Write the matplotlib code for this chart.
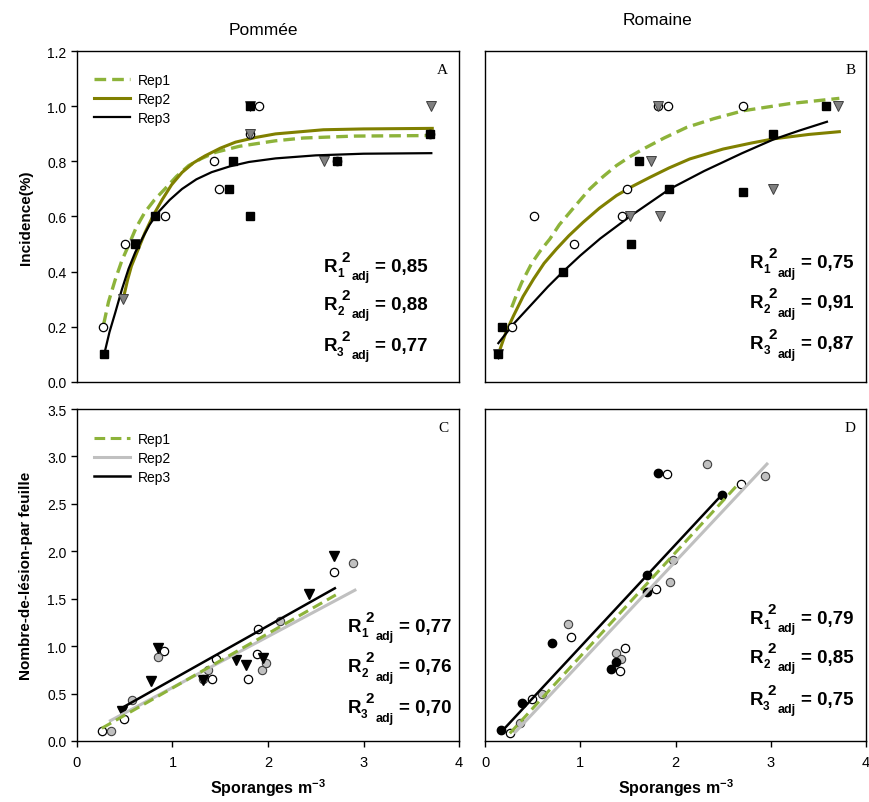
import matplotlib
matplotlib.use("Agg")
import matplotlib.pyplot as plt
from matplotlib.transforms import offset_copy

plt.rcParams['font.family'] = ['Liberation Sans', 'DejaVu Sans']
plt.rcParams['mathtext.fontset'] = 'custom'
plt.rcParams['mathtext.rm'] = 'Liberation Sans'
plt.rcParams['mathtext.bf'] = 'Liberation Sans:bold'

# ---------- Panel A : Pommée, incidence ----------
a_rep1_x = [0.27, 0.50, 0.92, 1.43, 1.49, 1.81, 1.91, 2.72, 3.70]
a_rep1_y = [0.2, 0.5, 0.6, 0.8, 0.7, 0.9, 1.0, 0.8, 0.9]
a_rep2_x = [0.48, 0.61, 1.81, 1.81, 2.59, 3.71]
a_rep2_y = [0.3, 0.5, 0.9, 1.0, 0.8, 1.0]
a_rep3_x = [0.28, 0.61, 0.82, 1.59, 1.63, 1.81, 1.81, 2.72, 3.70]
a_rep3_y = [0.1, 0.5, 0.6, 0.7, 0.8, 0.6, 1.0, 0.8, 0.9]

# fitted curves, points
a_fit1_x = [0.28, 0.33, 0.40, 0.47, 0.54, 0.62, 0.71, 0.81, 0.92, 1.04, 1.17, 1.30,
            1.45, 1.70, 2.08, 2.37, 2.90, 3.71]
a_fit1_y = [0.21, 0.29, 0.37, 0.44, 0.495, 0.56, 0.615, 0.66, 0.70, 0.745, 0.785, 0.81,
            0.833, 0.855, 0.875, 0.885, 0.892, 0.894]
a_fit2_x = [0.49, 0.53, 0.57, 0.64, 0.71, 0.80, 0.89, 0.99, 1.10, 1.22, 1.34, 1.50,
            1.66, 1.87, 2.08, 2.58, 3.00, 3.72]
a_fit2_y = [0.31, 0.37, 0.42, 0.48, 0.54, 0.605, 0.66, 0.715, 0.76, 0.795, 0.82, 0.848,
            0.87, 0.887, 0.90, 0.915, 0.918, 0.92]
a_fit3_x = [0.29, 0.34, 0.40, 0.47, 0.54, 0.61, 0.68, 0.76, 0.85, 0.97, 1.10, 1.25,
            1.41, 1.60, 1.80, 2.08, 2.50, 3.00, 3.71]
a_fit3_y = [0.107, 0.18, 0.25, 0.335, 0.41, 0.47, 0.518, 0.57, 0.615, 0.66, 0.70, 0.735,
            0.761, 0.782, 0.798, 0.811, 0.822, 0.828, 0.83]

# ---------- Panel B : Romaine, incidence ----------
b_rep1_x = [0.28, 0.51, 0.93, 1.44, 1.49, 1.82, 1.92, 2.71]
b_rep1_y = [0.2, 0.6, 0.5, 0.6, 0.7, 1.0, 1.0, 1.0]
b_rep2_x = [0.14, 1.52, 1.74, 1.82, 1.84, 3.02, 3.71]
b_rep2_y = [0.1, 0.6, 0.8, 1.0, 0.6, 0.7, 1.0]
b_rep3_x = [0.14, 0.175, 0.815, 1.53, 1.62, 1.93, 2.71, 3.02, 3.585]
b_rep3_y = [0.1, 0.2, 0.4, 0.5, 0.8, 0.7, 0.69, 0.9, 1.0]

b_fit1_x = [0.28, 0.33, 0.385, 0.49, 0.58, 0.68, 0.78, 0.89, 1.00, 1.10, 1.24, 1.38,
            1.52, 1.66, 1.88, 2.12, 2.40, 2.71, 3.20, 3.72]
b_fit1_y = [0.27, 0.315, 0.36, 0.43, 0.475, 0.518, 0.57, 0.615, 0.66, 0.70, 0.745, 0.785,
            0.817, 0.845, 0.885, 0.924, 0.955, 0.984, 1.01, 1.029]
b_fit2_x = [0.16, 0.22, 0.30, 0.40, 0.51, 0.62, 0.75, 0.88, 1.03, 1.20, 1.38, 1.55,
            1.73, 1.93, 2.15, 2.50, 2.80, 3.03, 3.40, 3.72]
b_fit2_y = [0.12, 0.18, 0.24, 0.31, 0.373, 0.43, 0.482, 0.53, 0.579, 0.63, 0.676, 0.71,
            0.742, 0.776, 0.809, 0.845, 0.867, 0.882, 0.898, 0.908]
b_fit3_x = [0.14, 0.30, 0.50, 0.66, 0.82, 1.00, 1.21, 1.52, 1.94, 2.30, 2.70, 3.03,
            3.30, 3.59]
b_fit3_y = [0.14, 0.21, 0.285, 0.345, 0.40, 0.458, 0.52, 0.60, 0.70, 0.765, 0.83, 0.88,
            0.912, 0.944]

# ---------- Panel C : Pommée, lesions per leaf ----------
c_rep1_x = [0.26, 0.49, 0.91, 1.41, 1.455, 1.79, 1.90, 1.89, 2.69]
c_rep1_y = [0.11, 0.23, 0.95, 0.65, 0.86, 0.65, 1.18, 0.92, 1.78]
c_rep2_x = [0.36, 0.58, 0.85, 1.315, 1.37, 1.94, 1.98, 2.13, 2.89]
c_rep2_y = [0.11, 0.43, 0.89, 0.65, 0.75, 0.75, 0.82, 1.27, 1.88]
c_rep3_x = [0.47, 0.78, 0.85, 1.315, 1.67, 1.77, 1.95, 2.43, 2.69]
c_rep3_y = [0.32, 0.63, 0.98, 0.64, 0.85, 0.80, 0.88, 1.55, 1.95]

c_fit1_x = [0.26, 2.71]
c_fit1_y = [0.134, 1.54]
c_fit2_x = [0.35, 2.91]
c_fit2_y = [0.214, 1.59]
c_fit3_x = [0.45, 2.70]
c_fit3_y = [0.337, 1.61]

# ---------- Panel D : Romaine, lesions per leaf ----------
d_rep1_x = [0.26, 0.49, 0.90, 1.42, 1.47, 1.79, 1.91, 2.69]
d_rep1_y = [0.08, 0.44, 1.10, 0.74, 0.98, 1.60, 2.81, 2.71]
d_rep2_x = [0.37, 0.60, 0.87, 1.37, 1.43, 1.94, 1.97, 2.33, 2.94]
d_rep2_y = [0.19, 0.49, 1.23, 0.93, 0.86, 1.68, 1.91, 2.92, 2.79]
d_rep3_x = [0.165, 0.39, 0.70, 1.32, 1.37, 1.70, 1.70, 1.82, 2.49]
d_rep3_y = [0.12, 0.40, 1.03, 0.76, 0.83, 1.75, 1.57, 2.83, 2.59]

d_fit1_x = [0.26, 2.66]
d_fit1_y = [0.08, 2.71]
d_fit2_x = [0.315, 2.96]
d_fit2_y = [0.09, 2.92]
d_fit3_x = [0.175, 2.50]
d_fit3_y = [0.10, 2.61]

r2_a = ['0,85', '0,88', '0,77']
r2_b = ['0,75', '0,91', '0,87']
r2_c = ['0,77', '0,76', '0,70']
r2_d = ['0,79', '0,85', '0,75']

GREEN = '#8db33a'
OLIVE = '#808000'
LGRAY = '#c0c0c0'

fig = plt.figure(figsize=(8.7, 8.03), dpi=100)
axA = fig.add_axes([0.0885, 0.5234, 0.4391, 0.4115])
axB = fig.add_axes([0.5575, 0.5234, 0.4379, 0.4115])
axC = fig.add_axes([0.0885, 0.0760, 0.4391, 0.4134])
axD = fig.add_axes([0.5575, 0.0760, 0.4379, 0.4134])


def r2_label(ax, x, y, i, val):
    base = dict(transform=ax.transAxes, fontweight='bold', va='baseline', ha='left')
    ax.text(x, y, 'R', fontsize=13.5, **base)
    for txt, dx, dy, fs in [(str(i), 9.9, -3.6, 8.5), ('2', 13.2, 7.2, 11),
                            ('adj', 20.2, -6.0, 9), ('= ' + val, 37.2, 0, 13.5)]:
        tr = offset_copy(ax.transAxes, fig=fig, x=dx, y=dy, units='points')
        ax.text(x, y, txt, fontsize=fs, transform=tr, fontweight='bold',
                va='baseline', ha='left')


def style(ax, ymax, yticks, show_y, show_x, letter):
    ax.set_xlim(0, 4)
    ax.set_ylim(0, ymax)
    for s in ax.spines.values():
        s.set_linewidth(1.0)
    ax.tick_params(direction='out', length=4, width=1, labelsize=10)
    if show_y:
        ax.set_yticks(yticks)
        ax.set_yticklabels([f'{t:.1f}' for t in yticks])
    else:
        ax.set_yticks([])
    if show_x:
        ax.set_xticks([0, 1, 2, 3, 4])
        ax.set_xticklabels(['0', '1', '2', '3', '4'], fontsize=10.5)
        ax.tick_params(axis='x', pad=6)
    else:
        ax.set_xticks([])
    ax.text(0.972, 0.965, letter, transform=ax.transAxes, ha='right', va='top',
            fontsize=11, family='Liberation Serif')


yt_inc = [0.0, 0.2, 0.4, 0.6, 0.8, 1.0, 1.2]
yt_les = [0.0, 0.5, 1.0, 1.5, 2.0, 2.5, 3.0, 3.5]

# incidence panels
for ax, fits, pts in [
        (axA, [(a_fit1_x, a_fit1_y), (a_fit2_x, a_fit2_y), (a_fit3_x, a_fit3_y)],
         [(a_rep1_x, a_rep1_y), (a_rep2_x, a_rep2_y), (a_rep3_x, a_rep3_y)]),
        (axB, [(b_fit1_x, b_fit1_y), (b_fit2_x, b_fit2_y), (b_fit3_x, b_fit3_y)],
         [(b_rep1_x, b_rep1_y), (b_rep2_x, b_rep2_y), (b_rep3_x, b_rep3_y)])]:
    l1, = ax.plot(*fits[0], color=GREEN, lw=2.4, dashes=(3.5, 1.8), label='Rep1', zorder=2)
    l2, = ax.plot(*fits[1], color=OLIVE, lw=2.2, label='Rep2', zorder=2)
    l3, = ax.plot(*fits[2], color='black', lw=1.6, label='Rep3', zorder=2)
    for ln in (l1, l2, l3):
        ln.set_solid_joinstyle('round')
        ln.set_dash_joinstyle('round')
    ax.plot(*pts[0], 'o', ms=6, mfc='white', mec='black', mew=0.9, zorder=3)
    ax.plot(*pts[1], 'v', ms=7, mfc='#808080', mec='#404040', mew=0.7, zorder=4)
    ax.plot(*pts[2], 's', ms=6, mfc='black', mec='black', zorder=5)
    if ax is axA:
        ax.legend(handles=[l1, l2, l3], loc='upper left', bbox_to_anchor=(0.0, 0.985),
                  frameon=False, fontsize=10, handlelength=2.6, handletextpad=0.6,
                  labelspacing=0.35, borderaxespad=0.8)

# lesion panels
for ax, fits, pts in [
        (axC, [(c_fit1_x, c_fit1_y), (c_fit2_x, c_fit2_y), (c_fit3_x, c_fit3_y)],
         [(c_rep1_x, c_rep1_y), (c_rep2_x, c_rep2_y), (c_rep3_x, c_rep3_y)]),
        (axD, [(d_fit1_x, d_fit1_y), (d_fit2_x, d_fit2_y), (d_fit3_x, d_fit3_y)],
         [(d_rep1_x, d_rep1_y), (d_rep2_x, d_rep2_y), (d_rep3_x, d_rep3_y)])]:
    ax.plot(*pts[0], 'o', ms=6, mfc='white', mec='black', mew=0.9, zorder=2)
    ax.plot(*pts[1], 'o', ms=6, mfc=LGRAY, mec='#404040', mew=0.8, zorder=3)
    if ax is axC:
        ax.plot(*pts[2], 'v', ms=7, mfc='black', mec='black', zorder=4)
    else:
        ax.plot(*pts[2], 'o', ms=6, mfc='black', mec='black', zorder=4)
    l2, = ax.plot(*fits[1], color=LGRAY, lw=2.2, label='Rep2', zorder=5)
    l1, = ax.plot(*fits[0], color=GREEN, lw=2.2, dashes=(3.5, 1.8), label='Rep1', zorder=6)
    l3, = ax.plot(*fits[2], color='black', lw=1.8, label='Rep3', zorder=7)
    if ax is axC:
        ax.legend(handles=[l1, l2, l3], loc='upper left', bbox_to_anchor=(0.0, 0.98),
                  frameon=False, fontsize=10, handlelength=2.6, handletextpad=0.6,
                  labelspacing=0.35, borderaxespad=0.8)

style(axA, 1.2, yt_inc, True, False, 'A')
style(axB, 1.2, yt_inc, False, False, 'B')
style(axC, 3.5, yt_les, True, True, 'C')
style(axD, 3.5, yt_les, False, True, 'D')

for i in range(3):
    r2_label(axA, 0.645, [0.336, 0.22, 0.097][i], i + 1, r2_a[i])
    r2_label(axB, 0.695, [0.346, 0.225, 0.101][i], i + 1, r2_b[i])
    r2_label(axC, 0.708, [0.332, 0.21, 0.086][i], i + 1, r2_c[i])
    r2_label(axD, 0.694, [0.356, 0.238, 0.112][i], i + 1, r2_d[i])

axA.set_ylabel('Incidence(%)', fontsize=11, fontweight='bold', labelpad=10)
axC.set_ylabel('Nombre-de-lésion-par feuille', fontsize=11, fontweight='bold', labelpad=10)
axC.set_xlabel(r'Sporanges m$^{\mathbf{-3}}$', fontsize=11.5, fontweight='bold', labelpad=5)
axD.set_xlabel(r'Sporanges m$^{\mathbf{-3}}$', fontsize=11.5, fontweight='bold', labelpad=5)

fig.text(0.303, 0.962, 'Pommée', fontsize=12.5, ha='center', va='center')
fig.text(0.756, 0.975, 'Romaine', fontsize=12.5, ha='center', va='center')

fig.savefig('out.png', dpi=100)
